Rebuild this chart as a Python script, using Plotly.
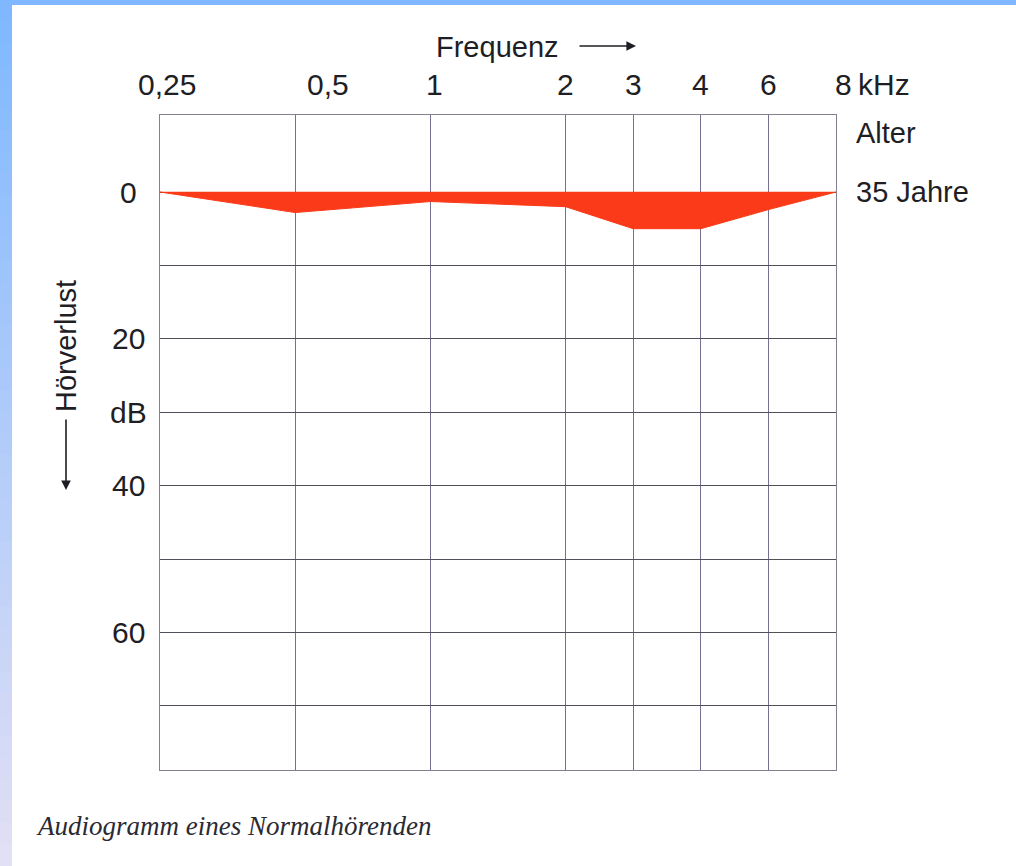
import numpy as np
import plotly.graph_objects as go

# ---- data ----
freq_khz = [0.25, 0.5, 1, 2, 3, 4, 6, 8]
freq_labels = ["0,25", "0,5", "1", "2", "3", "4", "6", "8"]
hearing_loss_db = [0, 2.8, 1.3, 2.0, 5.0, 5.0, 2.4, 0]
baseline_db = [0, 0, 0, 0, 0, 0, 0, 0]
db_gridlines = [0, 10, 20, 30, 40, 50, 60, 70]
db_label_values = [0, 20, 30, 40, 60]
db_label_texts = ["0", "20", "dB", "40", "60"]
age_label = "35 Jahre"

# audiogram convention: octave positions, 3 and 6 kHz on half-octaves
octave_pos = np.round(2 * np.log2(np.array(freq_khz) / freq_khz[0])) / 2

W, H = 1016, 866
ML, MR, MT, MB = 160, 180, 115, 96
PW, PH = W - ML - MR, H - MT - MB


def px_x(px):
    return (px - ML) / PW


def px_y(py):
    return 1 - (py - MT) / PH


FONT = "Liberation Sans, Arial, sans-serif"
TXT = "#1e1e24"
RED = "#fa3a18"
FS = 30

fig = go.Figure()
fig.add_trace(go.Scatter(x=octave_pos, y=baseline_db, mode="lines",
                         line=dict(color=RED, width=0.5), hoverinfo="skip",
                         showlegend=False))
fig.add_trace(go.Scatter(x=octave_pos, y=hearing_loss_db, mode="lines",
                         line=dict(color=RED, width=1), fill="tonexty",
                         fillcolor=RED, showlegend=False))

annotations = []


def label(x, y, text, xref="paper", yref="paper", xanchor="center", size=FS, **kw):
    annotations.append(dict(x=x, y=y, xref=xref, yref=yref, text=text,
                            xanchor=xanchor, yanchor="middle", showarrow=False,
                            font=dict(family=FONT, size=size, color=TXT), **kw))


# top frequency labels
label_shift = [7, 33, 4, 0, 0, 0, 0, 7]
for xp, lab, sh in zip(octave_pos, freq_labels, label_shift):
    label(xp, px_y(84), lab, xref="x", xshift=sh)
label(px_x(856), px_y(84), "kHz", xanchor="left")
label(px_x(497), px_y(47), "Frequenz", size=29)
annotations.append(dict(x=px_x(636), y=px_y(46), xref="paper", yref="paper",
                        text="", showarrow=True, ax=-58, ay=0,
                        arrowhead=2, arrowsize=1.2, arrowwidth=1.6, arrowcolor=TXT))
# y labels
for v, t in zip(db_label_values, db_label_texts):
    label(px_x(128), v, t, yref="y")
label(px_x(66), px_y(346), "Hörverlust", size=29, textangle=-90)
annotations.append(dict(x=px_x(66), y=px_y(490), xref="paper", yref="paper",
                        text="", showarrow=True, ax=0, ay=-72,
                        arrowhead=2, arrowsize=1.2, arrowwidth=1.6, arrowcolor=TXT))
# right labels
label(px_x(854), px_y(133), "Alter", xanchor="left", size=29)
label(px_x(854), 0, age_label, yref="y", xanchor="left", size=29)
# caption
annotations.append(dict(x=px_x(34), y=px_y(826), xref="paper", yref="paper",
                        text="<i>Audiogramm eines Normalhörenden</i>",
                        xanchor="left", yanchor="middle", showarrow=False,
                        font=dict(family="Liberation Serif, Times New Roman, serif",
                                  size=27, color="#2a2a33")))

# decorative blue frame
shapes = [dict(type="rect", xref="paper", yref="paper",
               x0=px_x(0), x1=px_x(W), y0=px_y(0), y1=px_y(5),
               fillcolor="#7fb8ff", line=dict(width=0), layer="above")]
n = 40
c0 = np.array([127, 184, 255])
c1 = np.array([226, 224, 245])
for i in range(n):
    t = i / (n - 1)
    c = (c0 * (1 - t) + c1 * t).astype(int)
    shapes.append(dict(type="rect", xref="paper", yref="paper",
                       x0=px_x(0), x1=px_x(12),
                       y0=px_y(H * i / n), y1=px_y(H * (i + 1) / n + 1),
                       fillcolor="rgb(%d,%d,%d)" % tuple(c), line=dict(width=0),
                       layer="above"))

fig.update_layout(
    width=W, height=H,
    margin=dict(l=ML, r=MR, t=MT, b=MB),
    paper_bgcolor="white", plot_bgcolor="white",
    annotations=annotations, shapes=shapes,
    xaxis=dict(range=[0, 5], tickvals=list(octave_pos), showticklabels=False,
               showgrid=True, gridcolor="#756f92", gridwidth=1.4, zeroline=False,
               showline=True, linecolor="#858090", linewidth=1.4, mirror=True,
               ticks="", fixedrange=True),
    yaxis=dict(range=[(770 - 192) / 7.34, -(192 - 115) / 7.34],
               tickvals=db_gridlines, showticklabels=False,
               showgrid=True, gridcolor="#505058", gridwidth=1.4, zeroline=False,
               showline=True, linecolor="#858090", linewidth=1.4, mirror=True,
               ticks="", fixedrange=True),
)

fig.write_html("out.html", config={"displayModeBar": False},
               post_script="document.body.style.margin='0px';")
